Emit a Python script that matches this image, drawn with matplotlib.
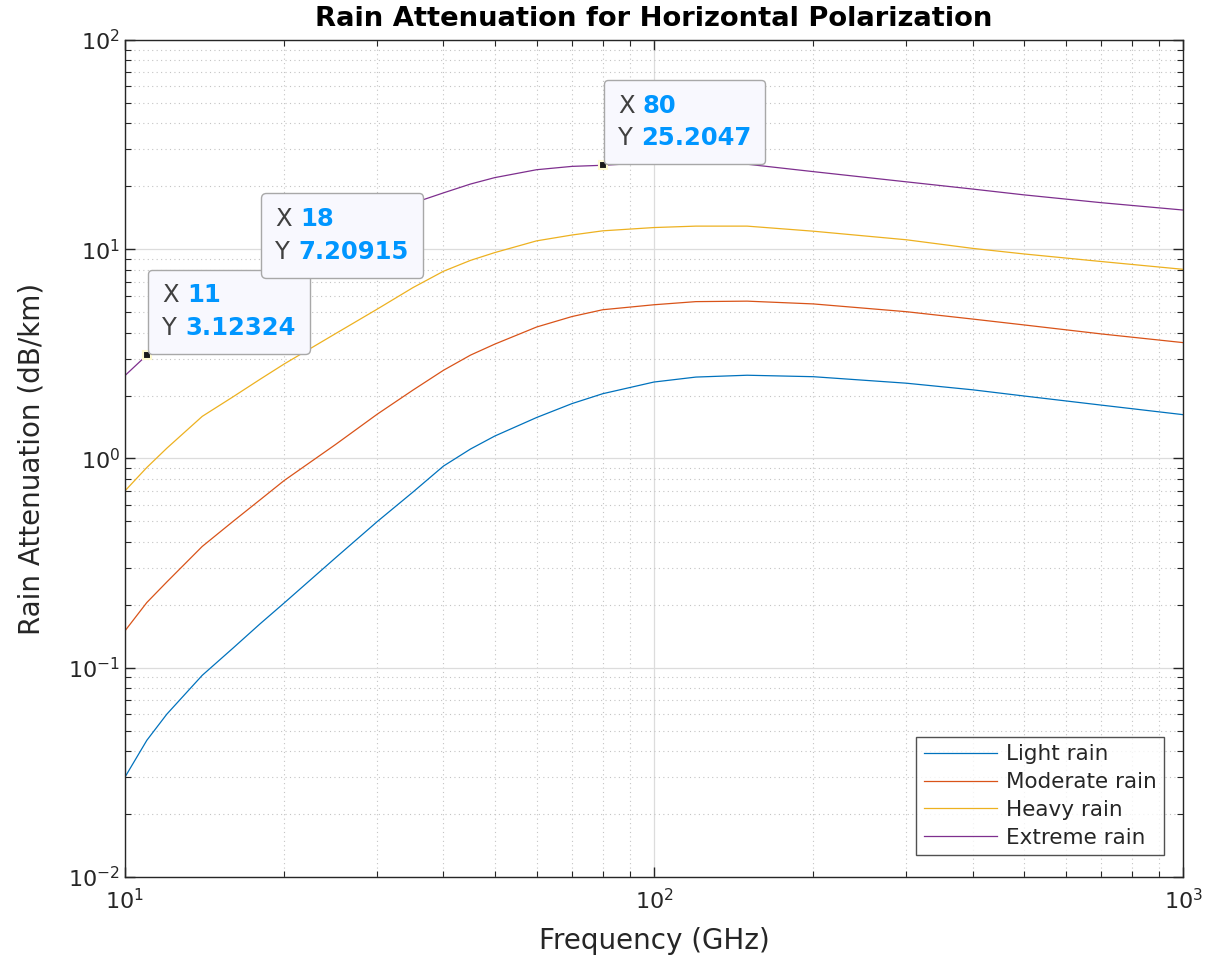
import numpy as np
import matplotlib
matplotlib.use('Agg')
import matplotlib.pyplot as plt
from matplotlib.offsetbox import TextArea, HPacker, VPacker, AnnotationBbox

# frequency grid (GHz) and read-off attenuation values (dB/km)
freq = [10, 11, 12, 14, 16, 18, 20, 25, 30, 35, 40, 45, 50, 60, 70, 80,
        100, 120, 150, 200, 300, 400, 500, 700, 1000]
light = [0.030, 0.045, 0.060, 0.092, 0.124, 0.162, 0.204, 0.335, 0.50, 0.69,
         0.92, 1.11, 1.28, 1.57, 1.83, 2.04, 2.32, 2.45, 2.50, 2.46, 2.29,
         2.13, 1.99, 1.80, 1.62]
moderate = [0.150, 0.205, 0.257, 0.38, 0.50, 0.634, 0.785, 1.166, 1.63, 2.12,
            2.64, 3.12, 3.52, 4.25, 4.77, 5.14, 5.43, 5.62, 5.65, 5.48, 5.03,
            4.64, 4.35, 3.94, 3.58]
heavy = [0.70, 0.906, 1.12, 1.59, 1.97, 2.39, 2.83, 3.95, 5.18, 6.55, 7.85,
         8.85, 9.64, 10.97, 11.7, 12.25, 12.7, 12.9, 12.9, 12.2, 11.1, 10.1,
         9.5, 8.74, 8.02]
extreme = [2.49, 3.12, 3.6, 4.9, 6.0, 7.21, 8.4, 11.3, 14.0, 16.6, 18.6,
           20.5, 22.0, 24.0, 24.9, 25.2, 26.0, 26.0, 25.5, 23.5, 21.0, 19.4,
           18.2, 16.7, 15.4]
labels = ['Light rain', 'Moderate rain', 'Heavy rain', 'Extreme rain']
colors = ['#0072bd', '#d95319', '#edb120', '#7e2f8e']

# data tips: (x, y, shown text)
tips_x = [11, 18, 80]
tips_y = [3.12324, 7.20915, 25.2047]
tips_txt = [('11', '3.12324'), ('18', '7.20915'), ('80', '25.2047')]

fig = plt.figure(figsize=(12.19, 9.6), dpi=100)
ax = fig.add_axes([0.1025, 0.0865, 0.868, 0.8718])

for s, lab, c in zip([light, moderate, heavy, extreme], labels, colors):
    ax.plot(freq, s, color=c, lw=0.9, label=lab)

ax.set_xscale('log')
ax.set_yscale('log')
ax.set_xlim(10, 1000)
ax.set_ylim(0.01, 100)

ax.grid(True, which='major', color='#dcdcdc', lw=0.9, ls='-')
ax.grid(True, which='minor', color='#c4c4c4', lw=0.8, ls=(0, (1, 3)))
ax.set_axisbelow(True)
ax.tick_params(which='both', direction='in', top=True, right=True,
               colors='#262626', labelsize=16)
ax.tick_params(which='major', length=7, width=1)
ax.tick_params(which='minor', length=4, width=0.8)
for sp in ax.spines.values():
    sp.set_color('#262626')
    sp.set_linewidth(1)
ax.tick_params(axis='x', pad=8)

ax.set_title('Rain Attenuation for Horizontal Polarization',
             fontsize=19.7, fontweight='bold', color='black', pad=10)
ax.set_xlabel('Frequency (GHz)', fontsize=20, color='#262626', labelpad=10)
ax.set_ylabel('Rain Attenuation (dB/km)', fontsize=20, color='#262626',
              labelpad=16)

leg = ax.legend(loc='lower right', fontsize=15.5, frameon=True, fancybox=False,
                edgecolor='#262626', handlelength=3.4, borderpad=0.35,
                labelspacing=0.36, handletextpad=0.4, borderaxespad=0,
                bbox_to_anchor=(0.982, 0.026))
leg.get_frame().set_linewidth(1)
for t in leg.get_texts():
    t.set_color('#262626')

for x, y, (xs, ys) in zip(tips_x, tips_y, tips_txt):
    ax.plot(x, y, 's', ms=5.5, mfc='#1a1a1a', mec='#fffbd0', mew=1.5, zorder=4)
    row1 = HPacker(children=[
        TextArea('X', textprops=dict(color='#404040', fontsize=17.5)),
        TextArea(xs, textprops=dict(color='#0096ff', fontsize=17.5,
                                    fontweight='bold'))], sep=6, align='baseline')
    row2 = HPacker(children=[
        TextArea('Y', textprops=dict(color='#404040', fontsize=17.5)),
        TextArea(ys, textprops=dict(color='#0096ff', fontsize=17.5,
                                    fontweight='bold'))], sep=6, align='baseline')
    box = VPacker(children=[row1, row2], sep=6, align='left', pad=0)
    ab = AnnotationBbox(box, (x, y), xybox=(11, 11), xycoords='data',
                        boxcoords='offset points', box_alignment=(0, 0),
                        frameon=True,
                        bboxprops=dict(boxstyle='round,pad=1.0,rounding_size=0.3',
                                       fc='#f8f8fe', ec='#a8a8a8', lw=1))
    ab.set_zorder(5)
    ax.add_artist(ab)

fig.savefig('out.png', dpi=100)
